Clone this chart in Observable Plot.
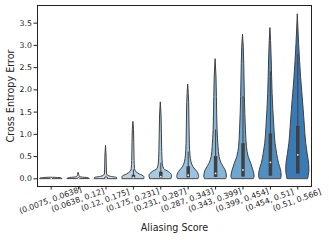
<!DOCTYPE html>
<html>
<head>
<meta charset="utf-8">
<script src="https://cdn.jsdelivr.net/npm/d3@7"></script>
<script src="https://cdn.jsdelivr.net/npm/@observablehq/plot@0.6"></script>
<style>
  html, body { margin: 0; padding: 0; background: #fff; }
  #chart svg { font-family: "DejaVu Sans", sans-serif; display: block; }
</style>
</head>
<body>
<div id="chart"></div>
<script>
// Categories (aliasing-score bins)
const categories = ["(0.0075, 0.0638]", "(0.0638, 0.12]", "(0.12, 0.175]", "(0.175, 0.231]", "(0.231, 0.287]",
  "(0.287, 0.343]", "(0.343, 0.399]", "(0.399, 0.454]", "(0.454, 0.51]", "(0.51, 0.566]"];
const colors = ["#e6edf3", "#dbe6ef", "#cddde9", "#bad4e7", "#a8cbe3", "#9bc2df", "#87b6d9", "#6ea6d0", "#4f8fc4", "#3a7ab5"];

// Violin outlines: error levels and relative density (1 = full half-width)
const violinLevels = [
  [0, 0.012, 0.025],
  [0, 0.015, 0.03, 0.05, 0.09, 0.135],
  [0, 0.02, 0.04, 0.07, 0.12, 0.3, 0.5, 0.74],
  [0, 0.04, 0.1, 0.15, 0.22, 0.4, 0.8, 1.1, 1.28],
  [0, 0.07, 0.15, 0.22, 0.34, 0.6, 1.0, 1.4, 1.72],
  [0, 0.04, 0.15, 0.26, 0.37, 0.52, 0.79, 1.2, 1.7, 2.12],
  [0, 0.05, 0.19, 0.34, 0.49, 0.71, 1.09, 1.84, 2.3, 2.69],
  [0, 0.05, 0.19, 0.34, 0.49, 0.71, 1.09, 1.46, 2.21, 2.96, 3.245],
  [0, 0.07, 0.19, 0.34, 0.56, 0.79, 1.16, 1.54, 1.91, 2.66, 3.1, 3.39],
  [0, 0.07, 0.19, 0.34, 0.56, 0.79, 1.16, 1.54, 1.91, 2.28, 3.03, 3.4, 3.70]
];
const violinDensity = [
  [1.0, 0.95, 0],
  [1.0, 0.9, 0.27, 0.09, 0.055, 0],
  [1.03, 1.0, 0.55, 0.18, 0.09, 0.07, 0.055, 0],
  [1.0, 1.0, 0.57, 0.27, 0.15, 0.11, 0.08, 0.055, 0],
  [0.98, 1.03, 0.75, 0.3, 0.18, 0.13, 0.1, 0.07, 0],
  [0.95, 1.0, 0.85, 0.48, 0.3, 0.21, 0.15, 0.12, 0.09, 0],
  [0.98, 1.03, 0.91, 0.55, 0.36, 0.27, 0.18, 0.12, 0.08, 0],
  [1.0, 1.06, 0.94, 0.75, 0.52, 0.36, 0.27, 0.21, 0.14, 0.07, 0],
  [0.98, 1.03, 0.97, 0.79, 0.61, 0.47, 0.36, 0.27, 0.2, 0.12, 0.06, 0],
  [0.95, 1.0, 1.06, 1.03, 0.9, 0.77, 0.65, 0.54, 0.42, 0.3, 0.12, 0.05, 0]
];

// Inner box statistics
const q1 = [0, 0.001, 0.005, 0.01, 0.02, 0.02, 0.03, 0.04, 0.06, 0.11];
const medians = [0.003, 0.005, 0.015, 0.03, 0.05, 0.08, 0.12, 0.2, 0.37, 0.54];
const q3 = [0.006, 0.012, 0.03, 0.08, 0.15, 0.27, 0.5, 0.79, 1.01, 1.18];
const whiskerTop = [0.015, 0.03, 0.06, 0.2, 0.35, 0.6, 1.1, 1.85, 2.4, 2.8];

const yTicks = [0, 0.5, 1, 1.5, 2, 2.5, 3, 3.5];
const halfWidth = 0.4; // seaborn width 0.8

const outline = [];
violinLevels.forEach((levels, i) => {
  levels.forEach((y, k) => {
    const d = violinDensity[i][k];
    outline.push({cat: categories[i], i, y, x1: i - d * halfWidth, x2: i + d * halfWidth});
  });
});
const stats = categories.map((c, i) => ({cat: c, i, q1: q1[i], med: medians[i], q3: q3[i], top: whiskerTop[i]}));
const idx = categories.map((c, i) => i);

const plot = Plot.plot({
  width: 329,
  height: 242,
  marginLeft: 37,
  marginRight: 18,
  marginTop: 5,
  marginBottom: 56,
  x: {domain: [-0.5, 9.5], axis: null},
  y: {domain: [-0.173, 3.897], axis: null},
  color: {domain: categories, range: colors},
  marks: [
    Plot.areaX(outline, {y: "y", x1: "x1", x2: "x2", z: "cat", fill: "cat", stroke: "#404040", strokeWidth: 1, curve: "monotone-y"}),
    Plot.ruleX(stats, {x: "i", y1: "q1", y2: "top", stroke: "#404040", strokeWidth: 1}),
    Plot.ruleX(stats, {x: "i", y1: "q1", y2: "q3", stroke: "#404040", strokeWidth: 3.5}),
    Plot.dot(stats, {x: "i", y: "med", r: 0.9, fill: "#eeeeee", stroke: null}),
    Plot.frame({stroke: "#222", strokeWidth: 1}),
    Plot.axisY({ticks: yTicks, tickFormat: d => d.toFixed(1), tickSize: 3.5, tickPadding: 2, fontSize: 7.8, label: null, color: "#222"}),
    Plot.axisX({ticks: idx, tickFormat: () => "", tickSize: 3.5, label: null, color: "#222"}),
    Plot.text(idx, {x: d => d, text: d => categories[d], frameAnchor: "bottom", dy: 16, rotate: -20, textAnchor: "middle", fontSize: 7.8, fill: "#222"}),
    Plot.text(["Cross Entropy Error"], {text: d => d, frameAnchor: "left", dx: -27, rotate: -90, textAnchor: "middle", fontSize: 9.6, fill: "#222"}),
    Plot.text(["Aliasing Score"], {text: d => d, frameAnchor: "bottom", dy: 44, textAnchor: "middle", fontSize: 9.6, fill: "#222"})
  ]
});
document.getElementById("chart").appendChild(plot);
</script>
</body>
</html>
